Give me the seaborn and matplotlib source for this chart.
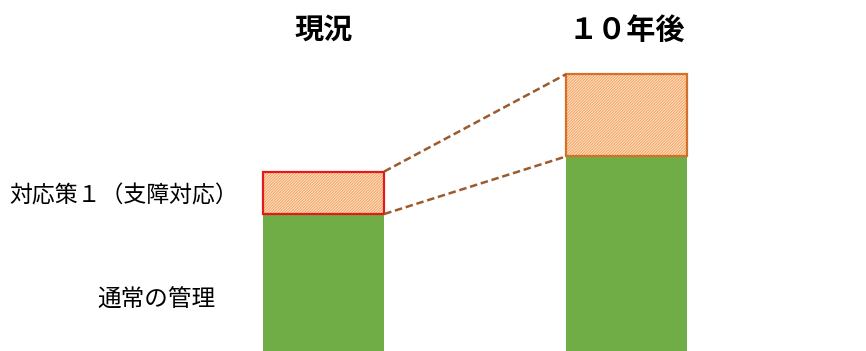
import matplotlib
matplotlib.use('Agg')
import matplotlib.pyplot as plt
import matplotlib.transforms as mtransforms
import seaborn as sns
import numpy as np

# values (arbitrary units, current normal = 100)
categories = ['現況', '１０年後']
normal = [100, 142]
countermeasure = [31, 60]
label_normal = '通常の管理'
label_counter = '対応策１（支障対応）'

green = '#70ad47'
hatch_color = '#f7a968'
outline_colors = ['#e31a1c', '#d4702a']
dash_color = '#9c5b2e'

sns.set_theme(style='white')
plt.rcParams['font.family'] = ['Noto Sans CJK JP', 'DejaVu Sans']
plt.rcParams['hatch.linewidth'] = 1.0
plt.rcParams['text.color'] = 'black'

fig = plt.figure(figsize=(8.66, 3.51), dpi=100)
ax = fig.add_axes([0, 0, 1, 1])

# green base bars
sns.barplot(x=categories, y=normal, color=green, saturation=1, width=0.4,
            linewidth=0, ax=ax)

pos = np.arange(len(categories))
totals = np.array(normal) + np.array(countermeasure)

# hatched countermeasure segments, then their outlines
ax.bar(pos, countermeasure, bottom=normal, width=0.4, color='white',
       edgecolor=hatch_color, hatch='////////////', linewidth=0)
ax.bar(pos, countermeasure, bottom=normal, width=0.4, fill=False,
       edgecolor=outline_colors, linewidth=1.6)

# dashed connectors between the bars
ax.plot([pos[0] + 0.2, pos[1] - 0.2], [totals[0], totals[1]],
        ls=(0, (3, 1.5)), color=dash_color, lw=1.8)
ax.plot([pos[0] + 0.2, pos[1] - 0.2], [normal[0], normal[1]],
        ls=(0, (3, 1.5)), color=dash_color, lw=1.8)

# map to the reference layout
ax.set_xlim(-1.068, 1.790)
ax.set_ylim(0, 256.2)
ax.set_axis_off()

trans = mtransforms.blended_transform_factory(ax.transData, ax.transAxes)
for p, name in zip(pos, categories):
    ax.text(p, 0.915, name, transform=trans, ha='center', va='center',
            fontsize=21, fontweight='bold', color='black')

fig.text(9 / 866, 1 - 196 / 351, label_counter, ha='left', va='center',
         fontsize=16.5, color='black')
fig.text(97 / 866, 1 - 300 / 351, label_normal, ha='left', va='center',
         fontsize=17, color='black')

fig.savefig('out.png', dpi=100)
